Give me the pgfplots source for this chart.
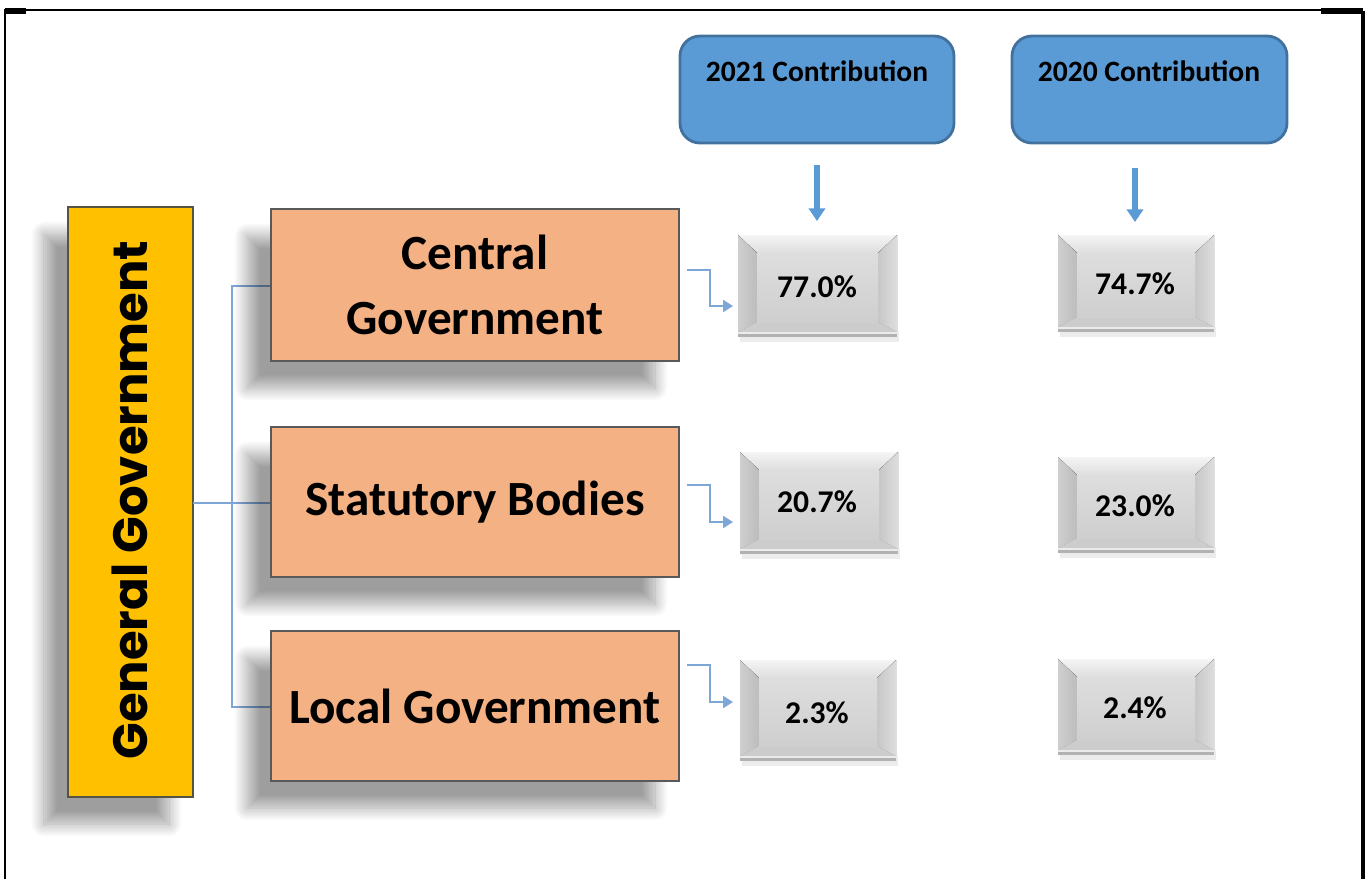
\documentclass[border=0pt]{standalone}
\usepackage{fontspec}
\setmainfont{Carlito}
\newfontfamily\popp{Poppins}
\usepackage{pgfplots}
\pgfplotsset{compat=1.18}
\usepackage{pgfplotstable}
\usetikzlibrary{arrows.meta,shadows.blur}

\definecolor{orangebox}{HTML}{F4B183}
\definecolor{yellowbox}{HTML}{FFC000}
\definecolor{bluebox}{HTML}{5B9BD5}
\definecolor{blueedge}{HTML}{41719C}
\definecolor{lineblue}{HTML}{7EA6D6}

% share of each sector, per year (box centres in pixel space)
\pgfplotstableread{
x   y   v
817 287 77.0
817 502 20.7
817 713 2.3
}\yeartwentyone
\pgfplotstableread{
x    y   v
1135 284 74.7
1135 506 23.0
1135 708 2.4
}\yeartwenty

\tikzset{softshadow/.style={blur shadow={shadow xshift=-2.4mm, shadow yshift=-2.7mm,
  shadow blur radius=1.3mm, shadow blur steps=20, shadow opacity=38}}}

% bevelled grey box: x1 y1 x2 y2 (y grows downwards)
\newcommand{\gbox}[4]{%
  \fill[black!15, opacity=0.5] (#1+2,#4) rectangle (#3+2,#4+10);
  \fill[top color=black!4, bottom color=black!13] (#1,#2) -- (#3,#2) -- (#3-19,#2+18) -- (#1+19,#2+18) -- cycle;
  \fill[left color=black!19, right color=black!26] (#1,#2) -- (#1+19,#2+18) -- (#1+19,#4-10) -- (#1,#4) -- cycle;
  \fill[left color=black!22, right color=black!13] (#3,#2) -- (#3-19,#2+18) -- (#3-19,#4-10) -- (#3,#4) -- cycle;
  \fill[black!20] (#1,#4) -- (#1+19,#4-10) -- (#3-19,#4-10) -- (#3,#4) -- cycle;
  \fill[top color=black!13, bottom color=black!19] (#1+19,#2+18) rectangle (#3-19,#4-10);
  \fill[black!8] (#1,#4) rectangle (#3,#4+2);
  \fill[black!30] (#1,#4+2) rectangle (#3,#4+5);
}

\begin{document}
\begin{tikzpicture}
\begin{axis}[
    width=13.71cm, height=8.79cm,
    scale only axis,
    xmin=0, xmax=1371,
    ymin=0, ymax=879,
    y dir=reverse,
    hide axis,
    clip=false,
]
\path (axis cs:0,0) rectangle (axis cs:1371,879);

% page frame
\draw[black, line width=0.7pt] (5,879) -- (5,10) -- (1321,10);
\draw[black, line width=1.6pt] (5,11) -- (26,11);
\draw[black, line width=1.6pt] (1321,11) -- (1363,11);
\draw[black, line width=0.9pt] (1363,11) -- (1363,879);

% general government
\filldraw[fill=yellowbox, draw=black!60!yellow!60!black, line width=0.6pt, softshadow]
  (68,207) rectangle (193,797);
\node[rotate=90, font=\popp\bfseries\fontsize{13.7}{16}\selectfont] at (130,500) {General Government};

% connectors
\draw[lineblue, line width=0.5pt] (193,503) -- (271,503);
\draw[lineblue, line width=0.5pt] (271,286) -- (232,286) -- (232,707) -- (271,707);

% sectors
\filldraw[fill=orangebox, draw=black!65, line width=0.6pt, softshadow] (271,209) rectangle (679,361);
\filldraw[fill=orangebox, draw=black!65, line width=0.6pt, softshadow] (271,427) rectangle (679,577);
\filldraw[fill=orangebox, draw=black!65, line width=0.6pt, softshadow] (271,631) rectangle (679,781);
\node[align=center, font=\bfseries\fontsize{14}{18.5}\selectfont] at (475,285) {Central\\Government};
\node[font=\bfseries\fontsize{14}{18.5}\selectfont] at (475,502) {Statutory Bodies};
\node[font=\bfseries\fontsize{14}{18.5}\selectfont] at (475,706) {Local Government};

% elbow arrows
\draw[lineblue, line width=0.5pt, -{Triangle[length=2.8pt, width=3.4pt]}] (687,270) -- (710,270) -- (710,306) -- (733,306);
\draw[lineblue, line width=0.5pt, -{Triangle[length=2.8pt, width=3.4pt]}] (687,485) -- (710,485) -- (710,522) -- (733,522);
\draw[lineblue, line width=0.5pt, -{Triangle[length=2.8pt, width=3.4pt]}] (687,665) -- (710,665) -- (710,702) -- (733,702);

% year headers
\filldraw[fill=bluebox, draw=blueedge, line width=0.8pt, rounded corners=2mm] (680,36) rectangle (954,143);
\filldraw[fill=bluebox, draw=blueedge, line width=0.8pt, rounded corners=2mm] (1012,36) rectangle (1287,143);
\node[font=\bfseries\fontsize{8.4}{10}\selectfont] at (817,71) {2021 Contribution};
\node[font=\bfseries\fontsize{8.4}{10}\selectfont] at (1149,71) {2020 Contribution};
\draw[bluebox, line width=1.7pt, -{Triangle[length=3.6pt, width=4.6pt]}] (817,165) -- (817,221);
\draw[bluebox, line width=1.7pt, -{Triangle[length=3.6pt, width=4.6pt]}] (1135,168) -- (1135,222);

% value boxes
\gbox{738}{235}{897}{332}
\gbox{740}{452}{898}{549}
\gbox{740}{660}{896}{756}
\gbox{1058}{235}{1214}{327}
\gbox{1058}{457}{1214}{548}
\gbox{1058}{659}{1214}{750}

\addplot[draw=none, mark=none, point meta=explicit,
  nodes near coords={\pgfmathprintnumber[assume math mode=true, fixed, fixed zerofill, precision=1]{\pgfplotspointmeta}\%},
  nodes near coords style={anchor=center, font=\bfseries\fontsize{9.0}{11}\selectfont}]
  table[x=x, y=y, meta=v] {\yeartwentyone};
\addplot[draw=none, mark=none, point meta=explicit,
  nodes near coords={\pgfmathprintnumber[assume math mode=true, fixed, fixed zerofill, precision=1]{\pgfplotspointmeta}\%},
  nodes near coords style={anchor=center, font=\bfseries\fontsize{9.0}{11}\selectfont}]
  table[x=x, y=y, meta=v] {\yeartwenty};
\end{axis}
\end{tikzpicture}
\end{document}
